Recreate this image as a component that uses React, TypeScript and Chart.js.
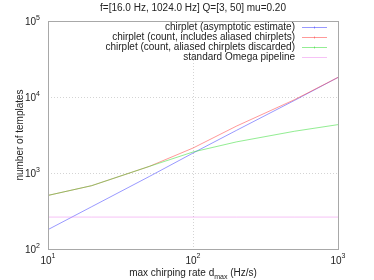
import React, { useEffect, useRef } from "react";
import { Chart, registerables } from "chart.js";

Chart.register(...registerables);

const titleText = "f=[16.0 Hz, 1024.0 Hz] Q=[3, 50] mu=0.20";
const rates = [10, 20, 50, 100, 200, 500, 1000];
const asymptotic = [180, 360, 900, 1830, 3650, 9000, 18100];
const countAliased = [507, 681, 1222, 2130, 4150, 9200, 18100];
const countDiscarded = [507, 681, 1222, 1890, 2570, 3540, 4330];
const omegaPipeline = [263, 263, 263, 263, 263, 263, 263];

const seriesLabels = [
  "chirplet (asymptotic estimate)",
  "chirplet (count, includes aliased chirplets)",
  "chirplet (count, aliased chirplets discarded)",
  "standard Omega pipeline",
];
const seriesColors = [
  "rgba(70,70,255,0.55)",
  "rgba(255,70,70,0.55)",
  "rgba(40,220,40,0.5)",
  "rgba(235,120,235,0.45)",
];
const seriesMarkers = [true, true, true, false];

const xTickValues = [10, 100, 1000];
const xTickExps = ["1", "2", "3"];
const yTickValues = [100, 1000, 10000, 100000];
const yTickExps = ["2", "3", "4", "5"];

const xTitleMain = "max chirping rate d";
const xTitleSub = "max";
const xTitleEnd = " (Hz/s)";
const yTitle = "number of templates";

const FONT = "'Liberation Sans', Arial, sans-serif";

const decorPlugin = {
  id: "decor",
  beforeDatasetsDraw(chart: any) {
    const { ctx, chartArea: a, scales } = chart;
    const x = scales.x;
    const y = scales.y;
    ctx.save();
    ctx.strokeStyle = "#d4d4d4";
    ctx.lineWidth = 1;
    ctx.setLineDash([1, 2]);
    xTickValues.forEach((v) => {
      const px = Math.round(x.getPixelForValue(v)) + 0.5;
      if (px > a.left + 1 && px < a.right - 1) {
        ctx.beginPath();
        ctx.moveTo(px, a.top);
        ctx.lineTo(px, a.bottom);
        ctx.stroke();
      }
    });
    yTickValues.forEach((v) => {
      const py = Math.round(y.getPixelForValue(v)) + 0.5;
      if (py > a.top + 1 && py < a.bottom - 1) {
        ctx.beginPath();
        ctx.moveTo(a.left, py);
        ctx.lineTo(a.right, py);
        ctx.stroke();
      }
    });
    ctx.restore();
  },
  afterDraw(chart: any) {
    const { ctx, chartArea: a, scales } = chart;
    const x = scales.x;
    const y = scales.y;
    ctx.save();
    ctx.strokeStyle = "#a8a8a8";
    ctx.lineWidth = 1;
    ctx.setLineDash([]);
    ctx.strokeRect(a.left + 0.5, a.top + 0.5, a.right - a.left, a.bottom - a.top);

    ctx.fillStyle = "#222";
    ctx.font = `10px ${FONT}`;
    ctx.textAlign = "center";
    ctx.textBaseline = "middle";
    ctx.fillText(titleText, (a.left + a.right) / 2, 8);

    xTickValues.forEach((v, i) => {
      const px = x.getPixelForValue(v);
      ctx.font = `10px ${FONT}`;
      const w1 = ctx.measureText("10").width;
      ctx.font = `7px ${FONT}`;
      const w2 = ctx.measureText(xTickExps[i]).width;
      const start = px - (w1 + w2) / 2;
      ctx.textAlign = "left";
      ctx.font = `10px ${FONT}`;
      ctx.fillText("10", start, 261);
      ctx.font = `7px ${FONT}`;
      ctx.fillText(xTickExps[i], start + w1, 256);
    });

    yTickValues.forEach((v, i) => {
      const py = y.getPixelForValue(v);
      ctx.font = `7px ${FONT}`;
      const w2 = ctx.measureText(yTickExps[i]).width;
      ctx.font = `10px ${FONT}`;
      const w1 = ctx.measureText("10").width;
      const right = 40;
      ctx.textAlign = "left";
      ctx.fillText("10", right - w1 - w2, py + 1.5);
      ctx.font = `7px ${FONT}`;
      ctx.fillText(yTickExps[i], right - w2, py - 3);
    });

    ctx.font = `10px ${FONT}`;
    const wA = ctx.measureText(xTitleMain).width;
    const wC = ctx.measureText(xTitleEnd).width;
    ctx.font = `7px ${FONT}`;
    const wB = ctx.measureText(xTitleSub).width;
    const cx = (a.left + a.right) / 2;
    const sx = cx - (wA + wB + wC) / 2;
    ctx.textAlign = "left";
    ctx.font = `10px ${FONT}`;
    ctx.fillText(xTitleMain, sx, 273.5);
    ctx.font = `7px ${FONT}`;
    ctx.fillText(xTitleSub, sx + wA, 277);
    ctx.font = `10px ${FONT}`;
    ctx.fillText(xTitleEnd, sx + wA + wB, 273.5);

    ctx.save();
    ctx.translate(20.5, (a.top + a.bottom) / 2);
    ctx.rotate(-Math.PI / 2);
    ctx.textAlign = "center";
    ctx.textBaseline = "middle";
    ctx.font = `10px ${FONT}`;
    ctx.fillText(yTitle, 0, 0);
    ctx.restore();

    seriesLabels.forEach((lab, i) => {
      const ly = 27.5 + 10 * i;
      ctx.font = `10px ${FONT}`;
      ctx.textAlign = "right";
      ctx.textBaseline = "middle";
      ctx.fillStyle = "#222";
      ctx.fillText(lab, 295, ly);
      ctx.strokeStyle = seriesColors[i];
      ctx.lineWidth = 1;
      ctx.beginPath();
      ctx.moveTo(302, ly);
      ctx.lineTo(327, ly);
      ctx.stroke();
      if (seriesMarkers[i]) {
        ctx.beginPath();
        ctx.moveTo(314.5, ly - 1);
        ctx.lineTo(314.5, ly + 1);
        ctx.stroke();
      }
    });
    ctx.restore();
  },
};

export default function App() {
  const ref = useRef<HTMLCanvasElement | null>(null);
  useEffect(() => {
    if (!ref.current) return;
    const series = [asymptotic, countAliased, countDiscarded, omegaPipeline];
    const chart = new Chart(ref.current, {
      type: "line",
      data: {
        datasets: series.map((vals, i) => ({
          label: seriesLabels[i],
          data: rates.map((r, j) => ({ x: r, y: vals[j] })),
          borderColor: seriesColors[i],
          backgroundColor: seriesColors[i],
          borderWidth: 1,
          pointRadius: 0,
          tension: 0,
          fill: false,
          order: series.length - i,
        })),
      },
      options: {
        animation: false,
        responsive: false,
        devicePixelRatio: 1,
        layout: { padding: { left: 48, right: 36, top: 21, bottom: 31 } },
        plugins: {
          legend: { display: false },
          title: { display: false },
          tooltip: { enabled: false },
        },
        scales: {
          x: { type: "logarithmic", min: 10, max: 1000, display: false },
          y: { type: "logarithmic", min: 100, max: 100000, display: false },
        },
      },
      plugins: [decorPlugin],
    });
    return () => chart.destroy();
  }, []);
  return (
    <div style={{ position: "absolute", left: 0, top: 0, width: 374, height: 280, background: "#fff" }}>
      <canvas ref={ref} width={374} height={280} style={{ display: "block" }} />
    </div>
  );
}
